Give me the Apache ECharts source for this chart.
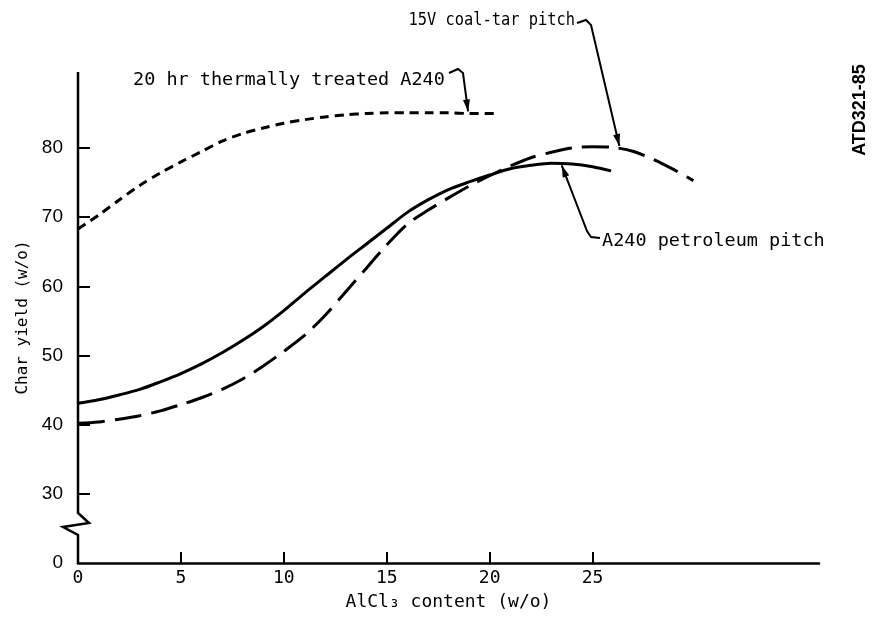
<!DOCTYPE html>
<html><head><meta charset="utf-8">
<script src="https://cdn.jsdelivr.net/npm/echarts@6/dist/echarts.min.js"></script>
<style>html,body{margin:0;padding:0;background:#fff}#c{width:873px;height:624px}</style>
</head><body><div id="c"></div>
<script>
// ---- data ----
const xTicks = [0, 5, 10, 15, 20, 25];
const yTicks = [0, 30, 40, 50, 60, 70, 80];

const thermalX = [0,1,2,3,4,5,6,7,8,9,10,11,12,13,14,15,16,17,18,19,20.2];
const thermalY = [68.3,70.3,72.5,74.6,76.4,78.0,79.5,81.0,82.1,82.9,83.6,84.1,84.5,84.8,85.0,85.1,85.1,85.1,85.1,85.0,85.0];

const petroleumX = [0,1,2,3,4,5,6,7,8,9,10,11,12,13,14,15,16,17,18,19,20,21,22,23,24,25,25.9];
const petroleumY = [43.1,43.6,44.3,45.1,46.2,47.4,48.8,50.4,52.2,54.2,56.5,59.0,61.4,63.8,66.1,68.4,70.7,72.5,74.0,75.1,76.1,77.0,77.5,77.8,77.7,77.3,76.7];

const coalX = [0,1,2,3,4,5,6,7,8,9,10,11,12,13,14,15,16,17,18,19,20,21,22,23,24,25,26,27,28,29,29.9];
const coalY = [40.2,40.4,40.8,41.3,42.0,42.9,43.9,45.1,46.6,48.5,50.6,52.9,55.8,59.2,62.6,66.0,69.0,71.0,72.8,74.5,76.0,77.4,78.6,79.4,80.0,80.2,80.1,79.5,78.3,76.8,75.3];

const labelThermal = '20 hr thermally treated A240';
const labelCoal = '15V coal-tar pitch';
const labelPetroleum = 'A240 petroleum pitch';
const thermalTip = [18.95, 85.0];
const coalTip = [26.3, 80.0];
const petroleumTip = [23.5, 77.8];

// broken y axis: 0 then 30..80 (one tick interval between 0 and 30)
function toAxis(v){ return v <= 0 ? 0 : v - 20; }
function fromAxis(a){ return a <= 0 ? 0 : a + 20; }
function pairs(xs, ys){ return xs.map((x,i)=>[x, toAxis(ys[i])]); }

const chart = echarts.init(document.getElementById('c'), null, {renderer:'canvas'});
const mono = 'DejaVu Sans Mono';
chart.setOption({
  animation: false,
  backgroundColor: '#fff',
  grid: {left: 78, right: 54, top: 72, bottom: 61, containLabel: false, outerBoundsMode: 'none'},
  xAxis: {
    type: 'value', min: 0, max: 36,
    axisLine: {show: true, onZero: false, lineStyle: {color: '#000', width: 2.5}},
    axisTick: {show: true, inside: true, length: 11, customValues: xTicks, lineStyle: {color:'#000', width: 2}},
    axisLabel: {customValues: xTicks, color: '#000', fontFamily: mono, fontSize: 18, margin: 6},
    splitLine: {show: false},
    name: 'AlCl₃ content (w/o)', nameLocation: 'middle', nameGap: 30,
    nameTextStyle: {color: '#000', fontFamily: mono, fontSize: 18}
  },
  yAxis: {
    type: 'value', min: 0, max: 71,
    axisLine: {show: false},
    axisTick: {show: true, inside: true, length: 12, customValues: yTicks.filter(v=>v>0).map(toAxis), lineStyle: {color:'#000', width: 2}},
    axisLabel: {customValues: yTicks.map(toAxis), formatter: v => String(fromAxis(v)), color: '#000', fontFamily: 'Liberation Sans', fontSize: 19, margin: 15},
    splitLine: {show: false},
    name: 'Char yield (w/o)', nameLocation: 'middle', nameGap: 46,
    nameTextStyle: {color: '#000', fontFamily: mono, fontSize: 16}
  },
  series: [
    {type: 'line', data: pairs(thermalX, thermalY), showSymbol: false, smooth: 0.3,
     lineStyle: {color: '#000', width: 3, type: [9, 6]}},
    {type: 'line', data: pairs(petroleumX, petroleumY), showSymbol: false, smooth: 0.3,
     lineStyle: {color: '#000', width: 3, type: 'solid'}},
    {type: 'line', data: pairs(coalX, coalY), showSymbol: false, smooth: 0.3,
     lineStyle: {color: '#000', width: 3, type: [27, 10]}}
  ]
});

// decorations: axis break, annotations
const P = (x, y) => chart.convertToPixel({gridIndex: 0}, [x, y]);
const axTop = P(0, 71), org = P(0, 0);
const ax = org[0], oy = org[1];
function arrowHead(from, tip){
  const dx = tip[0]-from[0], dy = tip[1]-from[1];
  const L = Math.hypot(dx, dy), ux = dx/L, uy = dy/L;
  const bx = tip[0]-ux*12, by = tip[1]-uy*12;
  const nx = -uy*3.5, ny = ux*3.5;
  return {type:'polygon', shape:{points:[tip,[bx+nx,by+ny],[bx-nx,by-ny]]}, style:{fill:'#000'}, z: 100};
}
function leader(points){
  return {type:'polyline', shape:{points}, style:{stroke:'#000', lineWidth: 2, fill: null}, z: 100};
}
const tT = P(thermalTip[0], toAxis(thermalTip[1]));
tT[1] -= 2;
const tC = P(coalTip[0], toAxis(coalTip[1]));
tC[1] -= 2;
const tP = P(petroleumTip[0], toAxis(petroleumTip[1]));
tP[1] += 2;

const textEl = (txt, x, y, align, sx) => ({type:'text', x, y, z: 100, scaleX: sx || 1,
  style:{text: txt, fontFamily: mono, fontSize: 18.5, fill:'#000', textAlign: align || 'left', textVerticalAlign:'middle'}});

const thermalHook = [[449,73],[458,69],[463,73]];
const coalHook = [[577,23],[586,20],[591,25]];
const petroHook = [[600,238],[591,237],[587,231]];

chart.setOption({graphic: [
  {type:'polyline', shape:{points:[[ax, axTop[1]],[ax, oy-50],[ax+11, oy-40],[ax-15, oy-36],[ax, oy-28],[ax, oy+1]]},
   style:{stroke:'#000', lineWidth: 2.5, fill: null}, z: 100},
  textEl(labelThermal, 133, 80),
  leader(thermalHook.concat([tT])), arrowHead(thermalHook[2], tT),
  textEl(labelCoal, 575, 20, 'right', 0.83),
  leader(coalHook.concat([tC])), arrowHead(coalHook[2], tC),
  textEl(labelPetroleum, 602, 241),
  leader(petroHook.concat([tP])), arrowHead(petroHook[2], tP),
  {type:'text', x: 860, y: 110, rotation: Math.PI/2, z: 100,
   style:{text:'ATD321-85', fontFamily:'Liberation Sans', fontWeight:'bold', fontSize: 18, fill:'#000', textAlign:'center', textVerticalAlign:'middle'}}
]});
</script>
</body></html>
